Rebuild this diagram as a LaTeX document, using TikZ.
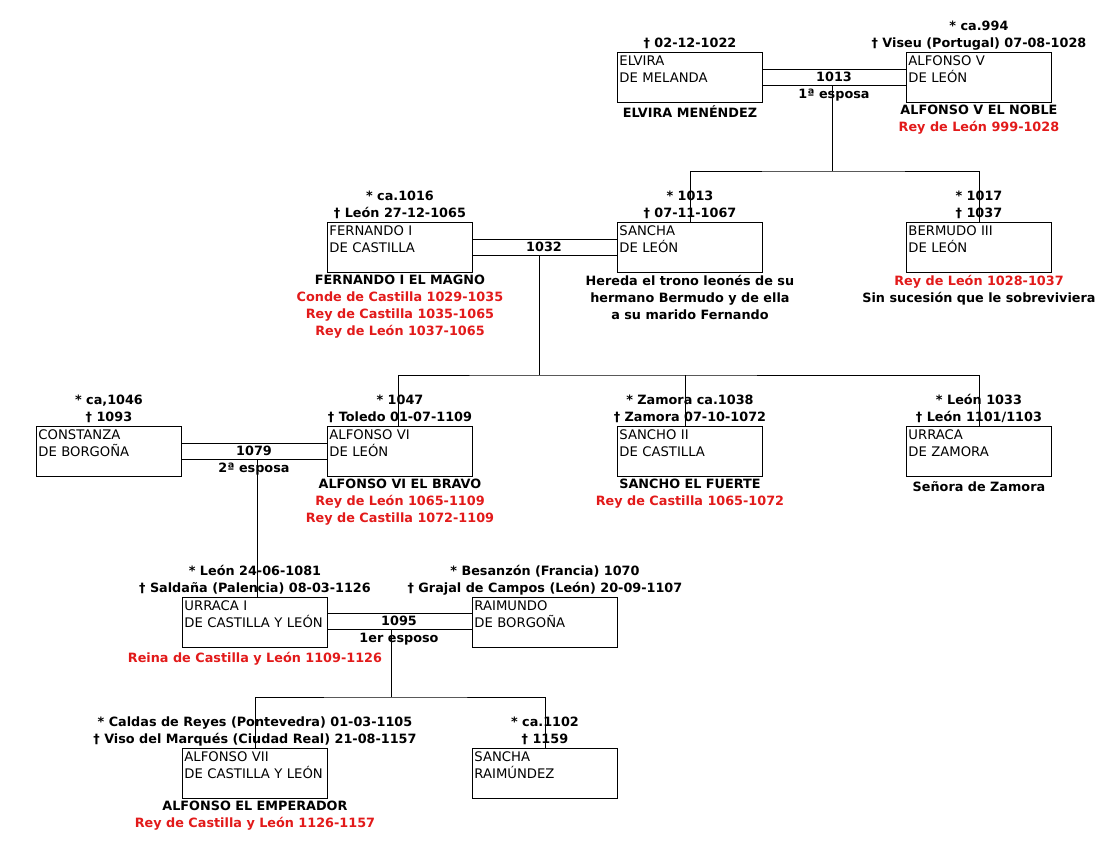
\documentclass[tikz,border=0pt]{standalone}
\usepackage{fontspec}
\setmainfont{DejaVu Sans}
\usepackage{xcolor}
\usepackage{tikz}
\usetikzlibrary{positioning}
\definecolor{reignred}{RGB}{226, 26, 26}
\newcommand{\namefont}{\fontsize{13.2}{17}\selectfont}
\newcommand{\notefont}{\fontsize{12.8}{17}\selectfont\bfseries}
\newcommand{\reign}[1]{\textcolor{reignred}{#1}}

\begin{document}
\begin{tikzpicture}[
    x=1pt, y=-1pt,
    person/.style={rectangle, draw, line width=0.9pt, anchor=north west, text width=141pt, inner sep=2pt, text height=11pt, text depth=35pt, align=left, font=\namefont},
    note/.style={inner sep=0pt, align=center, font=\notefont, execute at begin node=\strut, execute at end node=\strut},
    wed/.style={inner sep=0pt, font=\notefont},
    link/.style={line width=0.9pt}
]
    \useasboundingbox (0,0) rectangle (1119,851);

    % Alfonso V and Elvira
    \node[person] (elvira) at (617,52) {ELVIRA\\DE MELANDA};
    \node[person] (alfonsoV) at (906,52) {ALFONSO V\\DE LEÓN};
    \node[note, above=-1pt of elvira] (elviraTop) {† 02-12-1022};
    \node[note, below=2.3pt of elvira] (elviraBot) {ELVIRA MENÉNDEZ};
    \node[note, above=-1pt of alfonsoV] (alfonsoVTop) {* ca.994\\† Viseu (Portugal) 07-08-1028};
    \node[note, below=2.3pt of alfonsoV] (alfonsoVBot) {ALFONSO V EL NOBLE\\\reign{Rey de León 999-1028}};

    % Fernando, Sancha and Bermudo
    \node[person] (fernando) at (327,222) {FERNANDO I\\DE CASTILLA};
    \node[person] (sancha) at (617,222) {SANCHA\\DE LEÓN};
    \node[person] (bermudo) at (906,222) {BERMUDO III\\DE LEÓN};
    \node[note, above=-1pt of fernando] (fernandoTop) {* ca.1016\\† León 27-12-1065};
    \node[note, below=2.3pt of fernando] (fernandoBot) {FERNANDO I EL MAGNO\\\reign{Conde de Castilla 1029-1035}\\\reign{Rey de Castilla 1035-1065}\\\reign{Rey de León 1037-1065}};
    \node[note, above=-1pt of sancha] (sanchaTop) {* 1013\\† 07-11-1067};
    \node[note, below=2.3pt of sancha] (sanchaBot) {Hereda el trono leonés de su\\hermano Bermudo y de ella\\a su marido Fernando};
    \node[note, above=-1pt of bermudo] (bermudoTop) {* 1017\\† 1037};
    \node[note, below=2.3pt of bermudo] (bermudoBot) {\reign{Rey de León 1028-1037}\\Sin sucesión que le sobreviviera};

    % Alfonso VI and his siblings
    \node[person] (constanza) at (36,426) {CONSTANZA\\DE BORGOÑA};
    \node[person] (alfonsoVI) at (327,426) {ALFONSO VI\\DE LEÓN};
    \node[person] (sanchoII) at (617,426) {SANCHO II\\DE CASTILLA};
    \node[person] (urracaZ) at (906,426) {URRACA\\DE ZAMORA};
    \node[note, above=-1pt of constanza] (constanzaTop) {* ca,1046\\† 1093};
    \node[note, above=-1pt of alfonsoVI] (alfonsoVITop) {* 1047\\† Toledo 01-07-1109};
    \node[note, below=2.3pt of alfonsoVI] (alfonsoVIBot) {ALFONSO VI EL BRAVO\\\reign{Rey de León 1065-1109}\\\reign{Rey de Castilla 1072-1109}};
    \node[note, above=-1pt of sanchoII] (sanchoIITop) {* Zamora ca.1038\\† Zamora 07-10-1072};
    \node[note, below=2.3pt of sanchoII] (sanchoIIBot) {SANCHO EL FUERTE\\\reign{Rey de Castilla 1065-1072}};
    \node[note, above=-1pt of urracaZ] (urracaZTop) {* León 1033\\† León 1101/1103};
    \node[note, below=2.3pt of urracaZ] (urracaZBot) {Señora de Zamora};

    % Urraca I and Raimundo
    \node[person] (urracaI) at (182,597) {URRACA I\\DE CASTILLA Y LEÓN};
    \node[person] (raimundo) at (472,597) {RAIMUNDO\\DE BORGOÑA};
    \node[note, above=-1pt of urracaI] (urracaITop) {* León 24-06-1081\\† Saldaña (Palencia) 08-03-1126};
    \node[note, below=2.3pt of urracaI] (urracaIBot) {\reign{Reina de Castilla y León 1109-1126}};
    \node[note, above=-1pt of raimundo] (raimundoTop) {* Besanzón (Francia) 1070\\† Grajal de Campos (León) 20-09-1107};

    % Children of Urraca I
    \node[person] (alfonsoVII) at (182,748) {ALFONSO VII\\DE CASTILLA Y LEÓN};
    \node[person] (sanchaR) at (472,748) {SANCHA\\RAIMÚNDEZ};
    \node[note, above=-1pt of alfonsoVII] (alfonsoVIITop) {* Caldas de Reyes (Pontevedra) 01-03-1105\\† Viso del Marqués (Ciudad Real) 21-08-1157};
    \node[note, below=2.3pt of alfonsoVII] (alfonsoVIIBot) {ALFONSO EL EMPERADOR\\\reign{Rey de Castilla y León 1126-1157}};
    \node[note, above=-1pt of sanchaR] (sanchaRTop) {* ca.1102\\† 1159};

    % Marriages
    \draw[link] ([yshift=-17pt]elvira.north east) -- ([yshift=-17pt]alfonsoV.north west);
    \draw[link] ([yshift=-33pt]elvira.north east) -- ([yshift=-33pt]alfonsoV.north west);
    \node[wed] (w1013) at (834,77) {1013};
    \node[wed, anchor=base] (w1013note) at ([yshift=-17pt]w1013.base) {1ª esposa};

    \draw[link] ([yshift=-17pt]fernando.north east) -- ([yshift=-17pt]sancha.north west);
    \draw[link] ([yshift=-33pt]fernando.north east) -- ([yshift=-33pt]sancha.north west);
    \node[wed] (w1032) at (544,247) {1032};

    \draw[link] ([yshift=-17pt]constanza.north east) -- ([yshift=-17pt]alfonsoVI.north west);
    \draw[link] ([yshift=-33pt]constanza.north east) -- ([yshift=-33pt]alfonsoVI.north west);
    \node[wed] (w1079) at (254,451) {1079};
    \node[wed, anchor=base] (w1079note) at ([yshift=-17pt]w1079.base) {2ª esposa};

    \draw[link] ([yshift=-16pt]urracaI.north east) -- ([yshift=-16pt]raimundo.north west);
    \draw[link] ([yshift=-32pt]urracaI.north east) -- ([yshift=-32pt]raimundo.north west);
    \node[wed] (w1095) at (399,621) {1095};
    \node[wed, anchor=base] (w1095note) at ([yshift=-17pt]w1095.base) {1er esposo};

    % Descent
    \coordinate (d1013) at (832,85);
    \coordinate (b1013) at (832,171);
    \draw[link] (d1013) -- (b1013);
    \draw[link] (sancha.north) |- (b1013) -| (bermudo.north);

    \coordinate (d1032) at (539,255);
    \coordinate (b1032) at (539,375);
    \draw[link] (d1032) -- (b1032);
    \draw[link] ([xshift=-2pt]alfonsoVI.north) |- (b1032) -| (urracaZ.north);
    \draw[link] ([xshift=-5pt]sanchoII.north) -- ([xshift=-5pt]sanchoII.north |- b1032);

    \coordinate (d1079) at (257,459);
    \draw[link] (d1079) -- (d1079 |- urracaI.north);

    \coordinate (d1095) at (391,629);
    \coordinate (b1095) at (391,697);
    \draw[link] (d1095) -- (b1095);
    \draw[link] (alfonsoVII.north) |- (b1095) -| (sanchaR.north);

\end{tikzpicture}
\end{document}
